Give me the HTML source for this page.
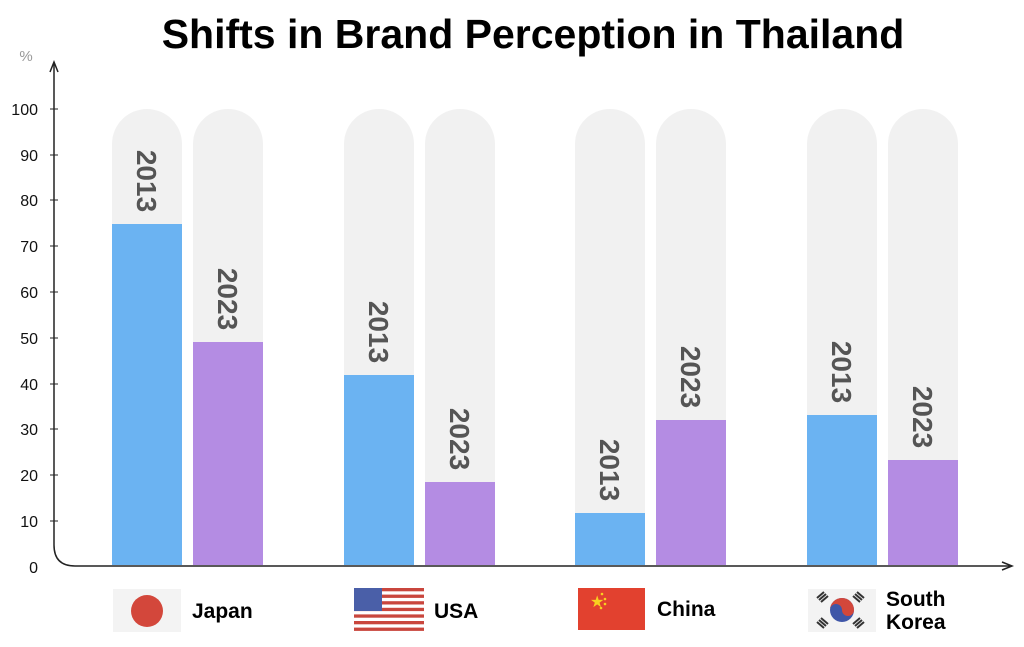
<!DOCTYPE html>
<html><head><meta charset="utf-8"><style>
html,body{margin:0;padding:0;background:#fff;}
svg{display:block;font-family:"Liberation Sans",Arial,sans-serif;}
</style></head><body>
<svg width="1024" height="647" viewBox="0 0 1024 647" xmlns="http://www.w3.org/2000/svg">
<text x="533" y="48" text-anchor="middle" font-size="41" font-weight="bold" fill="#000">Shifts in Brand Perception in Thailand</text>
<text x="26" y="61" text-anchor="middle" font-size="15" fill="#999">%</text>
<path d="M54,64 L54,545 Q54,566 75,566 L1010,566" fill="none" stroke="#222" stroke-width="1.5"/>
<path d="M50,72 L54,62 L58,72" fill="none" stroke="#222" stroke-width="1.5"/>
<path d="M1002,562 L1012,566 L1002,570" fill="none" stroke="#222" stroke-width="1.5"/>
<g font-size="16" fill="#111" text-anchor="end">
<text x="38" y="573">0</text>
<text x="38" y="527">10</text><line x1="50" x2="58" y1="521" y2="521" stroke="#222"/>
<text x="38" y="481">20</text><line x1="50" x2="58" y1="475" y2="475" stroke="#222"/>
<text x="38" y="435">30</text><line x1="50" x2="58" y1="429" y2="429" stroke="#222"/>
<text x="38" y="390">40</text><line x1="50" x2="58" y1="384" y2="384" stroke="#222"/>
<text x="38" y="344">50</text><line x1="50" x2="58" y1="338" y2="338" stroke="#222"/>
<text x="38" y="298">60</text><line x1="50" x2="58" y1="292" y2="292" stroke="#222"/>
<text x="38" y="252">70</text><line x1="50" x2="58" y1="246" y2="246" stroke="#222"/>
<text x="38" y="206">80</text><line x1="50" x2="58" y1="200" y2="200" stroke="#222"/>
<text x="38" y="161">90</text><line x1="50" x2="58" y1="155" y2="155" stroke="#222"/>
<text x="38" y="115">100</text><line x1="50" x2="58" y1="109" y2="109" stroke="#222"/>
</g>
<g fill="#f1f1f1">
<path d="M112,565 L112,144 A35,35 0 0 1 182,144 L182,565Z"/>
<path d="M193,565 L193,144 A35,35 0 0 1 263,144 L263,565Z"/>
<path d="M344,565 L344,144 A35,35 0 0 1 414,144 L414,565Z"/>
<path d="M425,565 L425,144 A35,35 0 0 1 495,144 L495,565Z"/>
<path d="M575,565 L575,144 A35,35 0 0 1 645,144 L645,565Z"/>
<path d="M656,565 L656,144 A35,35 0 0 1 726,144 L726,565Z"/>
<path d="M807,565 L807,144 A35,35 0 0 1 877,144 L877,565Z"/>
<path d="M888,565 L888,144 A35,35 0 0 1 958,144 L958,565Z"/>
</g>
<g fill="#6bb3f2">
<rect x="112" y="224" width="70" height="341"/>
<rect x="344" y="375" width="70" height="190"/>
<rect x="575" y="513" width="70" height="52"/>
<rect x="807" y="415" width="70" height="150"/>
</g>
<g fill="#b48ce3">
<rect x="193" y="342" width="70" height="223"/>
<rect x="425" y="482" width="70" height="83"/>
<rect x="656" y="420" width="70" height="145"/>
<rect x="888" y="460" width="70" height="105"/>
</g>
<g font-size="28" font-weight="bold" fill="#555" text-anchor="middle">
<text transform="translate(137,181) rotate(90)">2013</text>
<text transform="translate(218,299) rotate(90)">2023</text>
<text transform="translate(369,332) rotate(90)">2013</text>
<text transform="translate(450,439) rotate(90)">2023</text>
<text transform="translate(600,470) rotate(90)">2013</text>
<text transform="translate(681,377) rotate(90)">2023</text>
<text transform="translate(832,372) rotate(90)">2013</text>
<text transform="translate(913,417) rotate(90)">2023</text>
</g>
<rect x="113" y="589" width="68" height="43" fill="#f3f3f3"/>
<circle cx="147" cy="611" r="16" fill="#d3473b"/>
<g font-size="21" font-weight="bold" fill="#000">
<text x="192" y="618">Japan</text>
<text x="434" y="618">USA</text>
<text x="657" y="616">China</text>
<text x="886" y="606">South</text>
<text x="886" y="629">Korea</text>
</g>
<g>
<rect x="354" y="588" width="70" height="43" fill="#fff"/>
<g fill="#c9463d">
<rect x="354" y="588" width="70" height="3.3"/><rect x="354" y="594.6" width="70" height="3.3"/>
<rect x="354" y="601.2" width="70" height="3.3"/><rect x="354" y="607.8" width="70" height="3.3"/>
<rect x="354" y="614.4" width="70" height="3.3"/><rect x="354" y="621" width="70" height="3.3"/>
<rect x="354" y="627.6" width="70" height="3.3"/>
</g>
<rect x="354" y="588" width="28" height="23" fill="#4a5fa8"/>
</g>
<rect x="578" y="588" width="67" height="42" fill="#e2412f"/>
<text x="590" y="607" font-size="16" fill="#f8d020">★</text>
<g fill="#f8d020"><circle cx="602" cy="594" r="1.3"/><circle cx="605" cy="599" r="1.3"/><circle cx="605" cy="604" r="1.3"/><circle cx="601" cy="608" r="1.3"/></g>
<rect x="808" y="589" width="68" height="43" fill="#f3f3f3"/>
<circle cx="842" cy="610" r="12" fill="#3f56a8"/>
<path d="M830,610 A12,12 0 0 1 854,610 A6,6 0 0 1 842,610 A6,6 0 0 0 830,610Z" fill="#d3473b"/>
<g stroke="#333" stroke-width="2">
<path d="M817,598 l7,-6 M819,600 l7,-6 M821,602 l7,-6"/>
<path d="M857,592 l7,6 M855,594 l7,6 M853,596 l7,6"/>
<path d="M817,622 l7,6 M819,620 l7,6 M821,618 l7,6"/>
<path d="M857,628 l7,-6 M855,626 l7,-6 M853,624 l7,-6"/>
</g>
</svg>
</body></html>
